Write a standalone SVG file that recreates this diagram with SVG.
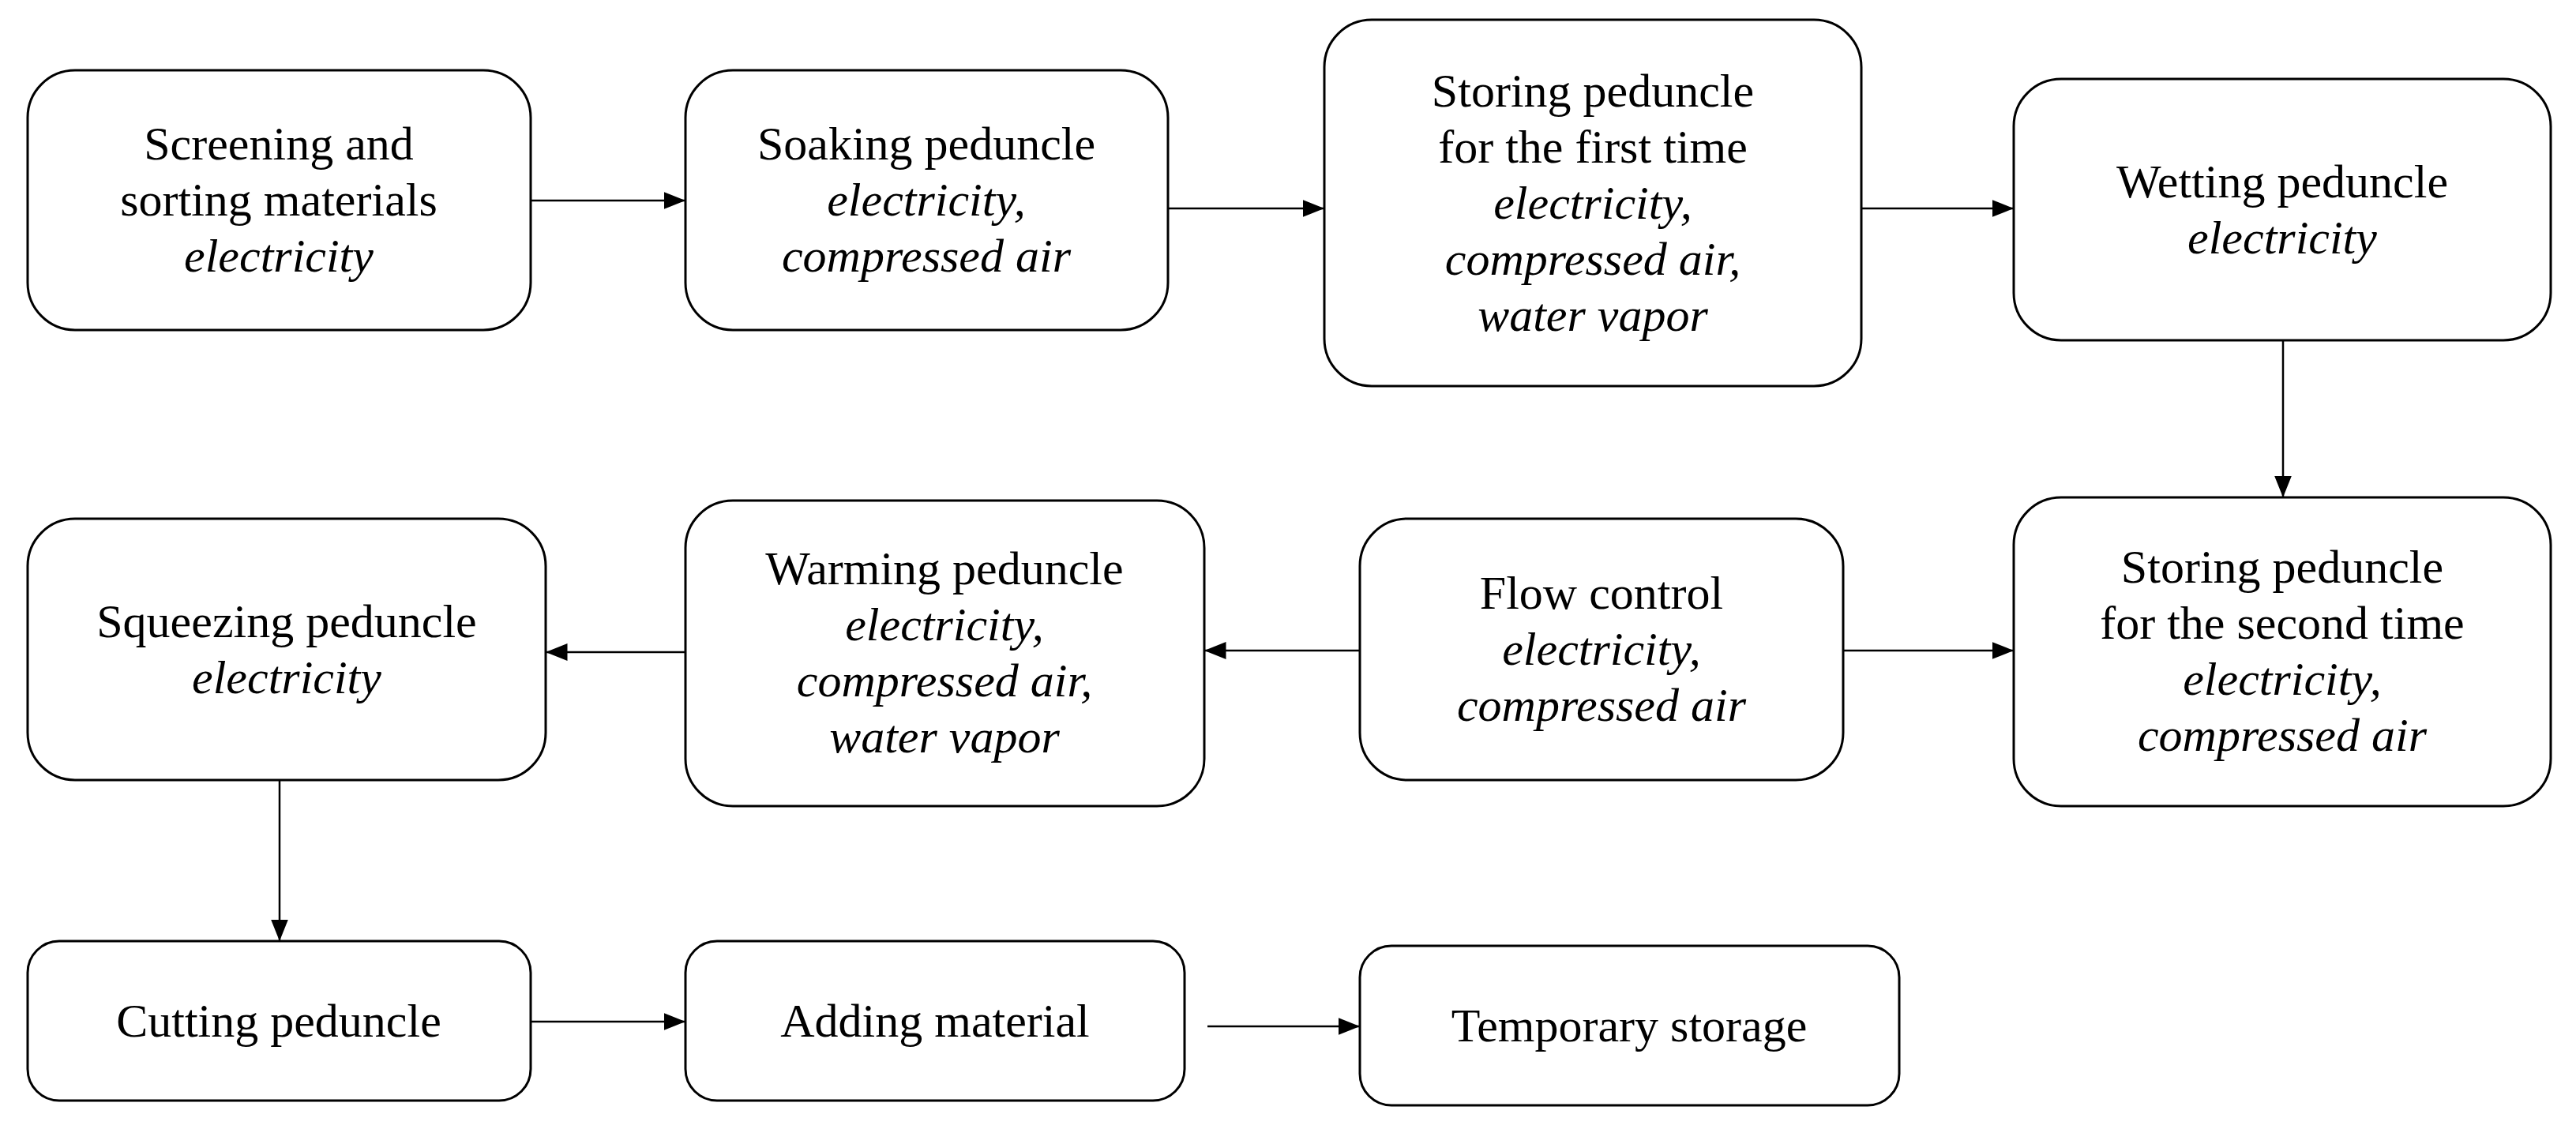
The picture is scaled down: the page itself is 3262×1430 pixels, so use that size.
<svg xmlns="http://www.w3.org/2000/svg" width="3262" height="1430" viewBox="0 0 3262 1430">
<defs>
<style>
rect.n{fill:#fff;stroke:#000;stroke-width:3}
text{font-family:"Liberation Serif","Times New Roman",serif;font-size:60px;fill:#000;text-anchor:middle}
.i{font-style:italic}
#edges line{stroke:#000;stroke-width:2.5;marker-end:url(#ah)}
</style>
<marker id="ah" viewBox="0 0 10 10" refX="10" refY="5" markerWidth="10" markerHeight="10" markerUnits="userSpaceOnUse" orient="auto"><path d="M0,0 L10,5 L0,10 z" fill="#000"/></marker>
<marker id="ahx" viewBox="0 0 10 10" refX="10" refY="5" markerWidth="11" markerHeight="11" orient="auto"><path d="M0,1 L10,5 L0,9 z" fill="#000"/></marker>
</defs>
<rect width="3262" height="1430" fill="#fff"/>
<g id="edges">
<line x1="672" y1="254" x2="868" y2="254" style="marker-end:url(#ahx)"/>
<line x1="1479" y1="264" x2="1677" y2="264" style="marker-end:url(#ahx)"/>
<line x1="2357" y1="264" x2="2550" y2="264" style="marker-end:url(#ahx)"/>
<line x1="2891" y1="431" x2="2891" y2="630" style="marker-end:url(#ahx)"/>
<line x1="2334" y1="824" x2="2550" y2="824" style="marker-end:url(#ahx)"/>
<line x1="1722" y1="824" x2="1525" y2="824" style="marker-end:url(#ahx)"/>
<line x1="868" y1="826" x2="691" y2="826" style="marker-end:url(#ahx)"/>
<line x1="354" y1="988" x2="354" y2="1192" style="marker-end:url(#ahx)"/>
<line x1="672" y1="1294" x2="868" y2="1294" style="marker-end:url(#ahx)"/>
<line x1="1529" y1="1300" x2="1722" y2="1300" style="marker-end:url(#ahx)"/>
</g>
<g id="n1"><rect class="n" x="35" y="89" width="637" height="329" rx="60"/>
<text x="353" y="202">Screening and</text><text x="353" y="273">sorting materials</text><text class="i" x="353" y="344">electricity</text></g>
<g id="n2"><rect class="n" x="868" y="89" width="611" height="329" rx="60"/>
<text x="1173" y="202">Soaking peduncle</text><text class="i" x="1173" y="273">electricity,</text><text class="i" x="1173" y="344">compressed air</text></g>
<g id="n3"><rect class="n" x="1677" y="25" width="680" height="464" rx="60"/>
<text x="2017" y="135">Storing peduncle</text><text x="2017" y="206">for the first time</text><text class="i" x="2017" y="277">electricity,</text><text class="i" x="2017" y="348">compressed air,</text><text class="i" x="2017" y="419">water vapor</text></g>
<g id="n4"><rect class="n" x="2550" y="100" width="680" height="331" rx="60"/>
<text x="2890" y="250">Wetting peduncle</text><text class="i" x="2890" y="321">electricity</text></g>
<g id="n5"><rect class="n" x="2550" y="630" width="680" height="391" rx="60"/>
<text x="2890" y="738">Storing peduncle</text><text x="2890" y="809">for the second time</text><text class="i" x="2890" y="880">electricity,</text><text class="i" x="2890" y="951">compressed air</text></g>
<g id="n6"><rect class="n" x="1722" y="657" width="612" height="331" rx="60"/>
<text x="2028" y="771">Flow control</text><text class="i" x="2028" y="842">electricity,</text><text class="i" x="2028" y="913">compressed air</text></g>
<g id="n7"><rect class="n" x="868" y="634" width="657" height="387" rx="60"/>
<text x="1196" y="740">Warming peduncle</text><text class="i" x="1196" y="811">electricity,</text><text class="i" x="1196" y="882">compressed air,</text><text class="i" x="1196" y="953">water vapor</text></g>
<g id="n8"><rect class="n" x="35" y="657" width="656" height="331" rx="60"/>
<text x="363" y="807">Squeezing peduncle</text><text class="i" x="363" y="878">electricity</text></g>
<g id="n9"><rect class="n" x="35" y="1192" width="637" height="202" rx="40"/>
<text x="353" y="1313">Cutting peduncle</text></g>
<g id="n10"><rect class="n" x="868" y="1192" width="632" height="202" rx="40"/>
<text x="1184" y="1313">Adding material</text></g>
<g id="n11"><rect class="n" x="1722" y="1198" width="683" height="202" rx="40"/>
<text x="2063" y="1319">Temporary storage</text></g>
</svg>
